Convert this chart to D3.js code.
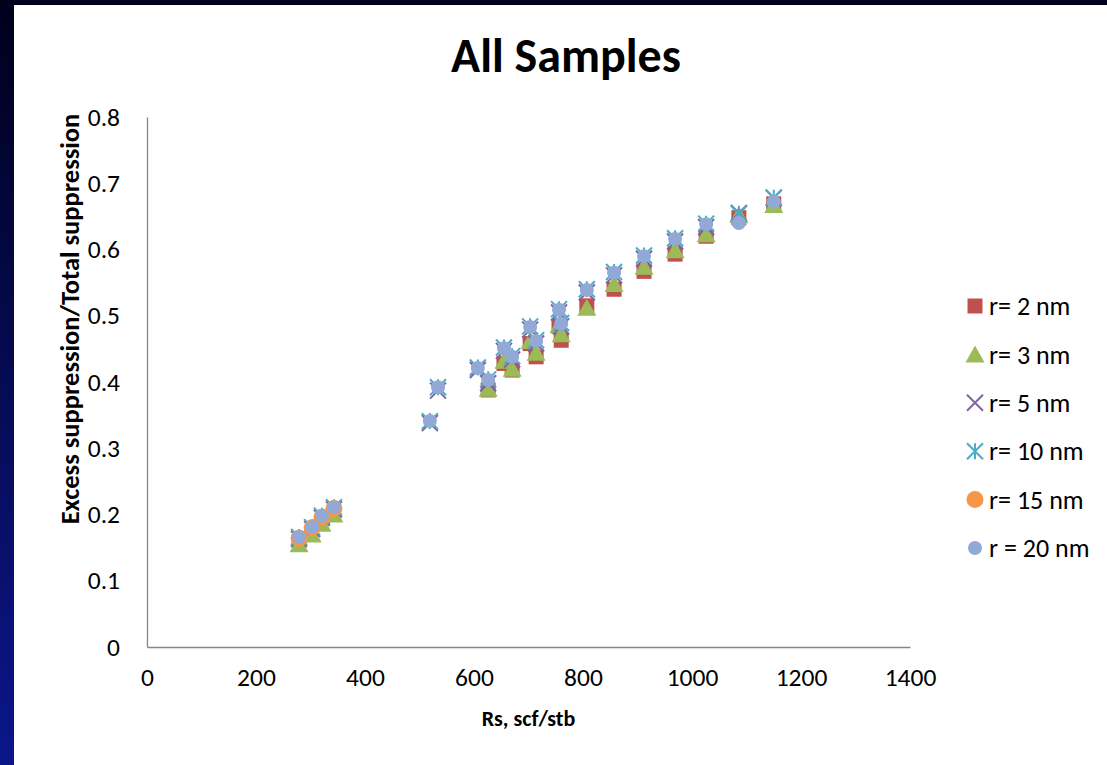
<!DOCTYPE html>
<html>
<head>
<meta charset="utf-8">
<script src="https://cdn.jsdelivr.net/npm/d3@7"></script>
<style>
  body { margin: 0; background: #fff; }
  svg { display: block; }
  text { font-family: Carlito, Calibri, Lato, sans-serif; fill: #000; }
</style>
</head>
<body>
<div id="viz"></div>
<script>
// Rs values (scf/stb) shared by all series
const rs = [279, 303, 321, 343, 519, 534, 607, 626, 655, 670, 703, 714, 756, 760, 807, 857, 912, 969, 1026, 1086, 1150];

// excess / total suppression per pore radius (null = no point)
const r2nm = [null, null, null, null, null, null, null, 0.388, 0.428, 0.418, 0.458, 0.438, 0.484, 0.463, 0.515, 0.540, 0.567, 0.593, 0.620, 0.648, 0.669];
const r3nm = [0.155, 0.170, 0.186, 0.200, null, null, null, 0.390, 0.432, 0.420, 0.462, 0.444, 0.486, 0.472, 0.512, 0.548, 0.574, 0.599, 0.623, 0.652, 0.667];
const r5nm = [0.163, 0.178, 0.195, 0.208, 0.338, 0.387, 0.418, 0.398, 0.447, 0.434, 0.479, 0.458, 0.505, 0.484, 0.535, 0.561, 0.586, 0.612, 0.634, 0.655, 0.678];
const r10nm = [0.166, 0.181, 0.198, 0.211, 0.341, 0.392, 0.422, 0.404, 0.452, 0.439, 0.484, 0.463, 0.510, 0.489, 0.540, 0.566, 0.591, 0.617, 0.639, 0.654, 0.678];
const r15nm = [0.164, 0.180, 0.196, 0.209, null, null, null, null, null, null, null, null, null, null, null, null, null, null, null, null, null];
const r20nm = [0.166, 0.181, 0.198, 0.211, 0.341, 0.392, 0.421, 0.403, 0.451, 0.438, 0.483, 0.462, 0.509, 0.488, 0.539, 0.565, 0.590, 0.616, 0.638, 0.640, 0.672];

const seriesNames = ['r= 2 nm', 'r= 3 nm', 'r= 5 nm', 'r= 10 nm', 'r= 15 nm', 'r = 20 nm'];
const xTicks = [0, 200, 400, 600, 800, 1000, 1200, 1400];
const xTickLabels = ['0', '200', '400', '600', '800', '1000', '1200', '1400'];
const yTicks = [0, 0.1, 0.2, 0.3, 0.4, 0.5, 0.6, 0.7, 0.8];
const yTickLabels = ['0', '0.1', '0.2', '0.3', '0.4', '0.5', '0.6', '0.7', '0.8'];

const width = 1107;
const height = 765;
const plot = { left: 147, right: 910, top: 117, bottom: 647 };

const red = '#C0504D';
const green = '#9BBB59';
const purple = '#8064A2';
const aqua = '#4BACC6';
const orange = '#F79646';
const lightBlue = '#92A9D5';
const axisColor = '#868686';

const series = [
  { name: seriesNames[0], values: r2nm, shape: 'square', color: red },
  { name: seriesNames[1], values: r3nm, shape: 'triangle', color: green },
  { name: seriesNames[2], values: r5nm, shape: 'x', color: purple },
  { name: seriesNames[3], values: r10nm, shape: 'star', color: aqua },
  { name: seriesNames[4], values: r15nm, shape: 'bigCircle', color: orange },
  { name: seriesNames[5], values: r20nm, shape: 'circle', color: lightBlue },
];

const x = d3.scaleLinear().domain([0, 1400]).range([plot.left, plot.right]);
const y = d3.scaleLinear().domain([0, 0.8]).range([plot.bottom, plot.top]);

const svg = d3.select('#viz').append('svg')
  .attr('width', width)
  .attr('height', height);

// slide frame: dark blue strips on the left and top
const defs = svg.append('defs');
const grad = defs.append('linearGradient')
  .attr('id', 'frame')
  .attr('x1', 0).attr('y1', 0).attr('x2', 0).attr('y2', 1);
grad.append('stop').attr('offset', '0%').attr('stop-color', '#00001c');
grad.append('stop').attr('offset', '100%').attr('stop-color', '#0b168a');

svg.append('rect').attr('width', width).attr('height', height).attr('fill', '#fff');
svg.append('rect').attr('x', 0).attr('y', 0).attr('width', 14).attr('height', height).attr('fill', 'url(#frame)');
svg.append('rect').attr('x', 0).attr('y', 0).attr('width', width).attr('height', 5).attr('fill', '#01011e');

// title
svg.append('text')
  .attr('x', 566)
  .attr('y', 72)
  .attr('text-anchor', 'middle')
  .style('font-size', '48px')
  .style('font-weight', 'bold')
  .text('All Samples');

// axes
const xAxis = svg.append('g')
  .attr('transform', `translate(0, ${plot.bottom})`)
  .call(d3.axisBottom(x).tickValues(xTicks).tickSize(0).tickPadding(21)
    .tickFormat((d, i) => xTickLabels[i]));

const yAxis = svg.append('g')
  .attr('transform', `translate(${plot.left}, 0)`)
  .call(d3.axisLeft(y).tickValues(yTicks).tickSize(0).tickPadding(27)
    .tickFormat((d, i) => yTickLabels[i]));

[xAxis, yAxis].forEach((a) => {
  a.select('.domain').attr('stroke', axisColor).attr('stroke-width', 1.3);
  a.selectAll('text')
    .style('font-family', 'Carlito, Calibri, Lato, sans-serif')
    .style('font-size', '25.5px')
    .attr('fill', '#000');
});

// axis titles
svg.append('text')
  .attr('x', (plot.left + plot.right) / 2)
  .attr('y', 726)
  .attr('text-anchor', 'middle')
  .style('font-size', '22px')
  .style('font-weight', 'bold')
  .text('Rs, scf/stb');

svg.append('text')
  .attr('transform', 'translate(79, 319) rotate(-90)')
  .attr('text-anchor', 'middle')
  .style('font-size', '26.5px')
  .style('font-weight', 'bold')
  .text('Excess suppression/Total suppression');

// marker drawing
function drawMarker(sel, shape, color) {
  if (shape === 'square') {
    sel.append('rect').attr('x', -7.5).attr('y', -7.5).attr('width', 15).attr('height', 15).attr('fill', color);
  } else if (shape === 'triangle') {
    sel.append('path').attr('d', 'M0,-9L9.5,8L-9.5,8Z').attr('fill', color);
  } else if (shape === 'x') {
    sel.append('path').attr('d', 'M-8,-8L8,8M-8,8L8,-8')
      .attr('stroke', color).attr('stroke-width', 2).attr('fill', 'none');
  } else if (shape === 'star') {
    sel.append('path').attr('d', 'M-8,-8L8,8M-8,8L8,-8M0,-8L0,8')
      .attr('stroke', color).attr('stroke-width', 2).attr('fill', 'none');
  } else if (shape === 'bigCircle') {
    sel.append('circle').attr('r', 8.5).attr('fill', color);
  } else {
    sel.append('circle').attr('r', 7).attr('fill', color);
  }
}

const marks = svg.append('g').attr('class', 'marks');
series.forEach((s) => {
  const pts = rs.map((v, i) => ({ rs: v, val: s.values[i] })).filter(d => d.val !== null);
  marks.append('g')
    .selectAll('g')
    .data(pts)
    .enter()
    .append('g')
    .attr('transform', d => `translate(${x(d.rs)}, ${y(d.val)})`)
    .each(function () { drawMarker(d3.select(this), s.shape, s.color); });
});

// legend
const legend = svg.append('g').attr('class', 'legend');
series.forEach((s, i) => {
  const row = legend.append('g')
    .attr('transform', `translate(975, ${306 + i * 48.4})`);
  drawMarker(row, s.shape, s.color);
  row.append('text')
    .attr('x', 14)
    .attr('dy', '0.35em')
    .style('font-size', '26px')
    .text(s.name);
});
</script>
</body>
</html>
